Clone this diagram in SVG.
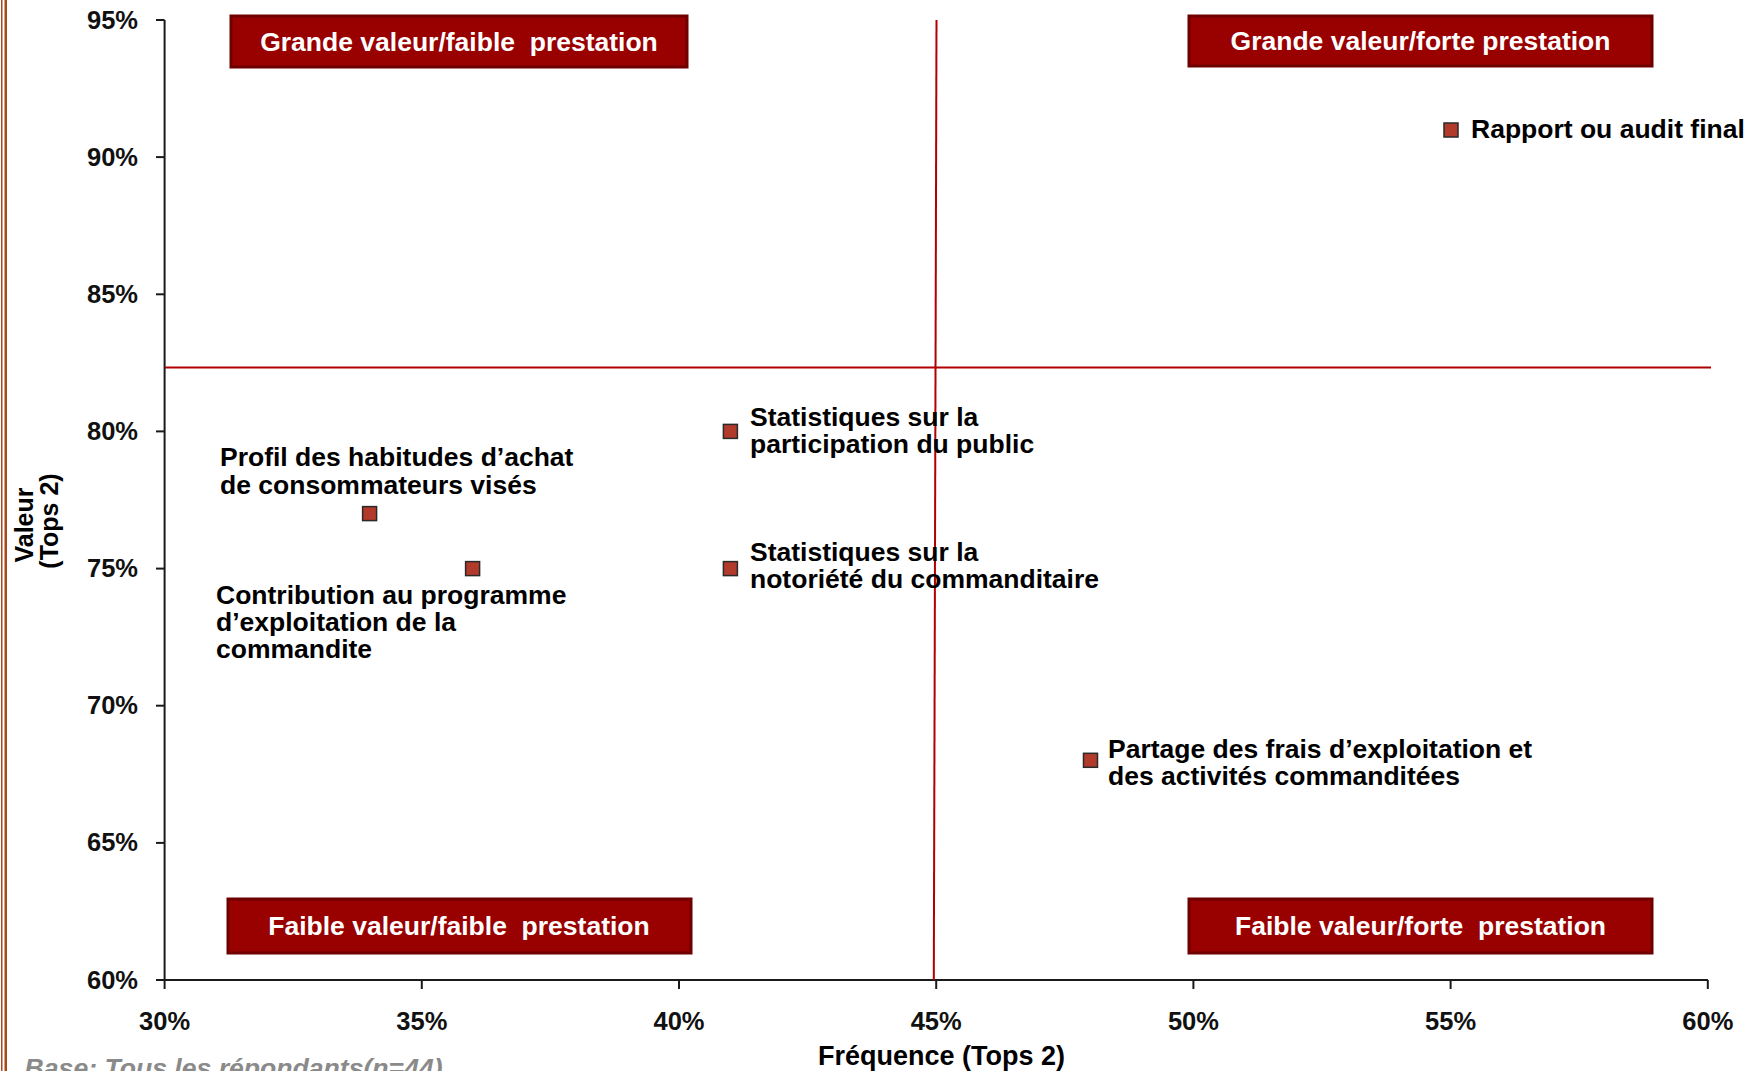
<svg xmlns="http://www.w3.org/2000/svg" width="1756" height="1071" viewBox="0 0 1756 1071">
<style>
  text { font-family: "Liberation Sans", Arial, sans-serif; font-weight: bold; }
  .tick { font-size: 25.5px; fill: #111; }
  .ylab { text-anchor: end; }
  .xlab { text-anchor: middle; }
  .axis { stroke: #1a1a1a; stroke-width: 2; fill: none; }
  .ref { stroke: #B00000; stroke-width: 2; fill: none; }
  .qbox { fill: #990000; stroke: #6E0000; stroke-width: 3; }
  .qtext { font-size: 26.5px; fill: #ffffff; text-anchor: middle; white-space: pre; }
  .pt { fill: #B23A2A; stroke: #2a2a2a; stroke-width: 1.5; }
  .lbl { font-size: 26.5px; fill: #000; }
  .title { font-size: 25px; fill: #000; }
  .xtitle { font-size: 27px; fill: #000; text-anchor: middle; }
  .base { font-size: 26.6px; font-style: italic; fill: #8a8a8a; }
</style>
<rect width="1756" height="1071" fill="#ffffff"/>
<!-- left border -->
<rect x="1" y="0" width="1.5" height="1071" fill="#A9481C"/>
<rect x="4.5" y="0" width="2.5" height="1071" fill="#A9481C"/>

<g id="axes">
  <line class="axis" x1="164.6" y1="20" x2="164.6" y2="981"/>
  <line class="axis" x1="163.6" y1="980" x2="1708" y2="980"/>
  <g class="axis">
    <line x1="156" y1="20" x2="164.6" y2="20"/>
    <line x1="156" y1="157.1" x2="164.6" y2="157.1"/>
    <line x1="156" y1="294.3" x2="164.6" y2="294.3"/>
    <line x1="156" y1="431.4" x2="164.6" y2="431.4"/>
    <line x1="156" y1="568.6" x2="164.6" y2="568.6"/>
    <line x1="156" y1="705.7" x2="164.6" y2="705.7"/>
    <line x1="156" y1="842.9" x2="164.6" y2="842.9"/>
    <line x1="156" y1="980" x2="164.6" y2="980"/>
    <line x1="164.6" y1="980" x2="164.6" y2="989"/>
    <line x1="421.8" y1="980" x2="421.8" y2="989"/>
    <line x1="679" y1="980" x2="679" y2="989"/>
    <line x1="936.2" y1="980" x2="936.2" y2="989"/>
    <line x1="1193.4" y1="980" x2="1193.4" y2="989"/>
    <line x1="1450.6" y1="980" x2="1450.6" y2="989"/>
    <line x1="1707.8" y1="980" x2="1707.8" y2="989"/>
  </g>
  <g class="tick ylab">
    <text x="138" y="29">95%</text>
    <text x="138" y="166">90%</text>
    <text x="138" y="303">85%</text>
    <text x="138" y="440">80%</text>
    <text x="138" y="577">75%</text>
    <text x="138" y="714">70%</text>
    <text x="138" y="851">65%</text>
    <text x="138" y="989">60%</text>
  </g>
  <g class="tick xlab">
    <text x="164.6" y="1030">30%</text>
    <text x="421.8" y="1030">35%</text>
    <text x="679" y="1030">40%</text>
    <text x="936.2" y="1030">45%</text>
    <text x="1193.4" y="1030">50%</text>
    <text x="1450.6" y="1030">55%</text>
    <text x="1707.8" y="1030">60%</text>
  </g>
  <text class="xtitle" x="941.5" y="1065">Fréquence (Tops 2)</text>
  <text class="title" transform="translate(33,525) rotate(-90)" text-anchor="middle">Valeur</text>
  <text class="title" transform="translate(58,521) rotate(-90)" text-anchor="middle">(Tops 2)</text>
</g>

<g id="connectors">
  <line class="ref" x1="165" y1="367.5" x2="1711" y2="367.5"/>
  <line class="ref" x1="936.5" y1="20" x2="933.8" y2="980"/>
</g>

<g id="q-grande-faible">
  <rect class="qbox" x="231" y="16" width="456" height="51"/>
  <text class="qtext" x="459" y="51">Grande valeur/faible  prestation</text>
</g>
<g id="q-grande-forte">
  <rect class="qbox" x="1189" y="16" width="463" height="50"/>
  <text class="qtext" x="1420.5" y="50">Grande valeur/forte prestation</text>
</g>
<g id="q-faible-faible">
  <rect class="qbox" x="228" y="899" width="463" height="54"/>
  <text class="qtext" x="459" y="935">Faible valeur/faible  prestation</text>
</g>
<g id="q-faible-forte">
  <rect class="qbox" x="1189" y="899" width="463" height="54"/>
  <text class="qtext" x="1420.5" y="935">Faible valeur/forte  prestation</text>
</g>

<g id="p-rapport">
  <rect class="pt" x="1444" y="123" width="14" height="14"/>
  <text class="lbl" x="1471" y="138">Rapport ou audit final</text>
</g>
<g id="p-participation">
  <rect class="pt" x="723.4" y="424.4" width="14" height="14"/>
  <text class="lbl" x="750" y="426">Statistiques sur la</text>
  <text class="lbl" x="750" y="453">participation du public</text>
</g>
<g id="p-notoriete">
  <rect class="pt" x="723.4" y="561.6" width="14" height="14"/>
  <text class="lbl" x="750" y="561">Statistiques sur la</text>
  <text class="lbl" x="750" y="588">notoriété du commanditaire</text>
</g>
<g id="p-profil">
  <rect class="pt" x="362.6" y="506.6" width="14" height="14"/>
  <text class="lbl" x="220" y="466">Profil des habitudes d’achat</text>
  <text class="lbl" x="220" y="494">de consommateurs visés</text>
</g>
<g id="p-contribution">
  <rect class="pt" x="465.6" y="561.6" width="14" height="14"/>
  <text class="lbl" x="216" y="603.5">Contribution au programme</text>
  <text class="lbl" x="216" y="630.5">d’exploitation de la</text>
  <text class="lbl" x="216" y="657.5">commandite</text>
</g>
<g id="p-partage">
  <rect class="pt" x="1083.5" y="753.3" width="14" height="14"/>
  <text class="lbl" x="1108" y="758">Partage des frais d’exploitation et</text>
  <text class="lbl" x="1108" y="785">des activités commanditées</text>
</g>

<text class="base" x="24.6" y="1077">Base: Tous les répondants(n=44)</text>
</svg>
